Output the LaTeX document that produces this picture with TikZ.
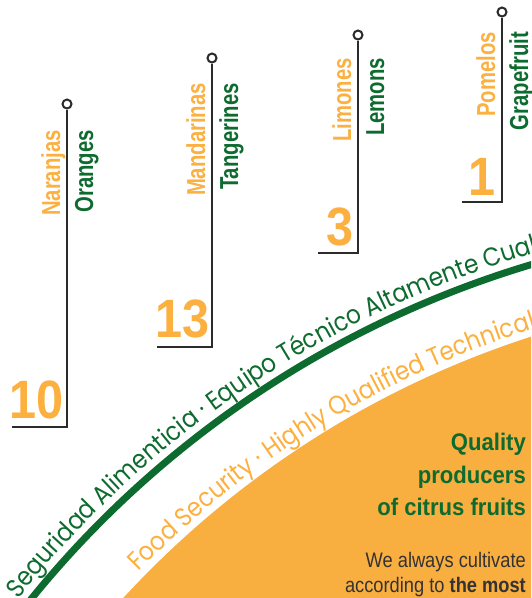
\documentclass[tikz,border=0pt]{standalone}
\usepackage{fontspec}
\usetikzlibrary{decorations.text}
\setmainfont{Liberation Sans}
\newfontfamily\labfont[FakeStretch=0.78]{Liberation Sans}
\newfontfamily\numfont[FakeStretch=0.9]{Liberation Sans}
\newfontfamily\headfont[FakeStretch=0.92]{Liberation Sans}
\newfontfamily\bodyfont[FakeStretch=0.87]{Liberation Sans}
\newfontfamily\arcfont[FakeStretch=0.89]{Poppins}
\definecolor{cgreen}{HTML}{0E6B2F}
\definecolor{corange}{HTML}{F9AE40}
\definecolor{ctxtor}{HTML}{FBB040}
\definecolor{cline}{HTML}{2B2B2B}
\definecolor{ctext}{HTML}{333333}
\tikzset{
  stemline/.style={draw=cline, line width=2.2pt},
  knob/.style={circle, draw=cline, line width=2pt, fill=white, inner sep=0pt, minimum size=9pt},
  eslab/.style={rotate=90, anchor=base east, text=ctxtor, inner sep=0pt,
    font=\labfont\bfseries\fontsize{26}{26}\selectfont},
  enlab/.style={rotate=90, anchor=base east, text=cgreen, inner sep=0pt,
    font=\labfont\bfseries\fontsize{26}{26}\selectfont},
  numlab/.style={anchor=base east, text=ctxtor, inner sep=0pt,
    font=\numfont\bfseries\fontsize{54}{54}\selectfont},
  headlab/.style={anchor=base east, text=cgreen, inner sep=0pt,
    font=\headfont\bfseries\fontsize{24}{24}\selectfont},
  bodylab/.style={anchor=base east, text=ctext, inner sep=0pt,
    font=\bodyfont\fontsize{21}{21}\selectfont},
}
\begin{document}
\begin{tikzpicture}[x=1pt,y=1pt]
\useasboundingbox (0,0) rectangle (531,-598);
\clip (0,0) rectangle (531,-598);
\coordinate (O) at (823,-1242);
% orange field
\fill[corange] (O) circle[radius=951pt];
% green arc
\coordinate (ga) at ([shift={(145:1020pt)}]O);
\draw[cgreen, line width=7pt] (ga) arc[start angle=145, end angle=100, radius=1020pt];
% arc texts
\coordinate (gs) at ([shift={(141.4:1030pt)}]O);
\path[decorate, decoration={text along path, text align=left,
  text={|\arcfont\fontsize{26}{26}\selectfont\color{cgreen}|Seguridad Alimenticia · Equipo Técnico Altamente Cuali}}]
  (gs) arc[start angle=141.4, end angle=100, radius=1030pt];
\coordinate (os) at ([shift={(135.6:958pt)}]O);
\path[decorate, decoration={text along path, text align=left,
  text={|\arcfont\fontsize{26}{26}\selectfont\color{ctxtor}|Food Security · Highly Qualified Technical}}]
  (os) arc[start angle=135.6, end angle=100, radius=958pt];
% stem 1
\coordinate (l1) at (12,-427);
\coordinate (b1) at (67,-427);
\node[knob] (k1) at (67,-104) {};
\draw[stemline] (l1) -- (b1) -- (k1.south);
\node[eslab] (es1) at (60,-130) {Naranjas};
\node[enlab] (en1) at (93,-130) {Oranges};
\node[numlab] (n1) at (64,-418) {10};
% stem 2
\coordinate (l2) at (157,-347);
\coordinate (b2) at (212,-347);
\node[knob] (k2) at (212,-58) {};
\draw[stemline] (l2) -- (b2) -- (k2.south);
\node[eslab] (es2) at (205,-83) {Mandarinas};
\node[enlab] (en2) at (238,-83) {Tangerines};
\node[numlab] (n2) at (210,-337) {13};
% stem 3
\coordinate (l3) at (318,-253);
\coordinate (b3) at (358,-253);
\node[knob] (k3) at (358,-35) {};
\draw[stemline] (l3) -- (b3) -- (k3.south);
\node[eslab] (es3) at (351,-58) {Limones};
\node[enlab] (en3) at (384,-58) {Lemons};
\node[numlab] (n3) at (354,-245) {3};
% stem 4
\coordinate (l4) at (462,-202);
\coordinate (b4) at (502,-202);
\node[knob] (k4) at (502,-12) {};
\draw[stemline] (l4) -- (b4) -- (k4.south);
\node[eslab] (es4) at (495,-32) {Pomelos};
\node[enlab] (en4) at (528,-32) {Grapefruit};
\node[numlab] (n4) at (496,-195) {1};
% right text
\node[headlab] (q1) at (526,-450) {Quality};
\node[headlab] (q2) at (526,-483) {producers};
\node[headlab] (q3) at (526,-515) {of citrus fruits};
\node[bodylab] (t1) at (526,-567) {We always cultivate};
\node[bodylab] (t2) at (526,-592) {according to \textbf{the most}};
\end{tikzpicture}
\end{document}
